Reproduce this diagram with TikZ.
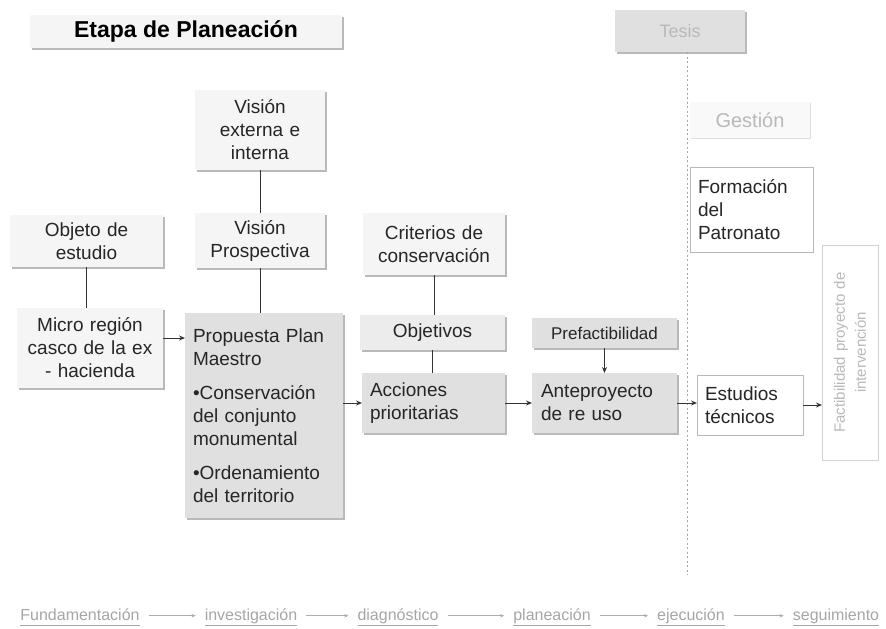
\documentclass[tikz,border=0pt]{standalone}
\usepackage{fontspec}
\setmainfont{Liberation Sans}
\usetikzlibrary{arrows.meta,shadows}
\newcommand\ulword[1]{\underline{#1\vphantom{gpÓ}}}
\begin{document}
\begin{tikzpicture}[x=1pt,y=-1pt,
  base/.style={inner sep=0pt, outer sep=0pt, font=\fontsize{19}{23}\selectfont, text=black!85},
  shad/.style={drop shadow={shadow xshift=1.6pt,shadow yshift=-1.6pt,fill=gray!55,opacity=1}},
  light/.style={base, fill=gray!8, shad},
  hatch/.style={base, fill=gray!24, shad},
  outl/.style={base, draw=gray!55, line width=0.8pt, fill=white},
  link/.style={draw=black!80, line width=1pt},
  arr/.style={link, -{Stealth[length=6pt,width=5pt]}},
  bw/.style={inner sep=1pt, anchor=base, font=\fontsize{16}{18}\selectfont, text=gray!70},
  bwarr/.style={draw=gray!65, line width=0.6pt, -{Stealth[length=4pt,width=3.5pt]}, shorten <=8pt, shorten >=8pt}
]
\useasboundingbox[fill=white] (0,0) rectangle (886,629);

% title and header boxes
\node[light, minimum width=312pt, minimum height=33pt, font=\fontsize{23}{26}\bfseries\selectfont, text=black] (title) at (186,31.5) {Etapa de Planeación};
\node[hatch, minimum width=130pt, minimum height=42pt, font=\fontsize{18}{22}\selectfont, text=gray!55] (tesis) at (680,31) {Tesis};
\node[base, fill=gray!5, drop shadow={shadow xshift=1.2pt,shadow yshift=-1.2pt,fill=gray!25,opacity=1}, minimum width=120pt, minimum height=36pt, font=\fontsize{20}{24}\selectfont, text=gray!55] (gestion) at (750,120) {Gestión};
\node[outl, minimum width=123pt, minimum height=85pt, text width=107pt, align=left] (form) at (751.5,209.5) {Formación\\del\\Patronato};

% dashed separator
\coordinate (dtop) at (687,52);
\coordinate (dbot) at (687,575);
\draw[gray!70, line width=0.8pt, dash pattern=on 2pt off 2.5pt] (dtop) -- (dbot);

% left column boxes
\node[light, minimum width=130pt, minimum height=80pt, text width=120pt, align=center] (vext) at (260,130) {Visión\\externa e\\interna};
\node[light, minimum width=130pt, minimum height=55pt, text width=124pt, align=center] (vpro) at (260,240.5) {Visión\\Prospectiva};
\node[light, minimum width=153pt, minimum height=52pt, text width=140pt, align=center] (objeto) at (86.5,241) {Objeto de\\estudio};
\node[light, minimum width=142pt, minimum height=62pt, text width=134pt, align=center] (crit) at (434,244) {Criterios de\\conservación};
\node[base, fill=gray!15, shad, minimum width=145pt, minimum height=35pt, align=center] (objetivos) at (432.5,332.5) {Objetivos};
\node[light, minimum width=146pt, minimum height=80pt, text width=140pt, align=center] (micro) at (90,348) {Micro región\\casco de la ex\\- hacienda};
\node[hatch, minimum width=158pt, minimum height=205pt, text width=142pt, align=left] (prop) at (264,415.5) {Propuesta Plan\\Maestro\\[11pt]•Conservación\\del conjunto\\monumental\\[11pt]•Ordenamiento\\del territorio};
\node[hatch, minimum width=143pt, minimum height=60pt, text width=127pt, align=left] (acc) at (433.5,403) {Acciones\\prioritarias};
\node[hatch, minimum width=145pt, minimum height=30pt, font=\fontsize{17}{20}\selectfont, align=center] (pref) at (604.5,333) {Prefactibilidad};
\node[hatch, minimum width=145pt, minimum height=60pt, text width=127pt, align=left] (ante) at (604.5,403) {Anteproyecto\\de re uso};
\node[outl, minimum width=106pt, minimum height=60pt, text width=90pt, align=left] (est) at (750,405) {Estudios\\técnicos};
\node[outl, draw=gray!35, rotate=90, minimum width=215pt, minimum height=56pt, text width=205pt, align=center, font=\fontsize{15}{21}\selectfont, text=gray!55] (fact) at (850,352.5) {Factibilidad proyecto de\\intervención};

% connectors
\draw[link] (vext.south) -- (vpro.north);
\draw[link] (vpro.south) -- (vpro.south |- prop.north);
\draw[link] (objeto.south) -- (objeto.south |- micro.north);
\draw[link] (crit.south) -- (crit.south |- objetivos.north);
\draw[link] (objetivos.south) -- (objetivos.south |- acc.north);
\draw[arr] ([yshift=10pt]micro.east) -- ([yshift=10pt]micro.east -| prop.west);
\draw[arr] (prop.east |- acc.west) -- (acc.west);
\draw[arr] (acc.east) -- (ante.west);
\draw[arr] (pref.south) -- (ante.north);
\draw[arr] (ante.east) -- (ante.east -| est.west);
\draw[arr] (est.east) -- (est.east -| fact.north);

% bottom process line
\node[bw] (w1) at (80,620) {\ulword{Fundamentación}};
\node[bw] (w2) at (251,620) {\ulword{investigación}};
\node[bw] (w3) at (398,620) {\ulword{diagnóstico}};
\node[bw] (w4) at (552,620) {\ulword{planeación}};
\node[bw] (w5) at (691,620) {\ulword{ejecución}};
\node[bw] (w6) at (836,620) {\ulword{seguimiento}};
\draw[bwarr] (w1.east) -- (w2.west);
\draw[bwarr] (w2.east) -- (w3.west);
\draw[bwarr] (w3.east) -- (w4.west);
\draw[bwarr] (w4.east) -- (w5.west);
\draw[bwarr] (w5.east) -- (w6.west);
\end{tikzpicture}
\end{document}
